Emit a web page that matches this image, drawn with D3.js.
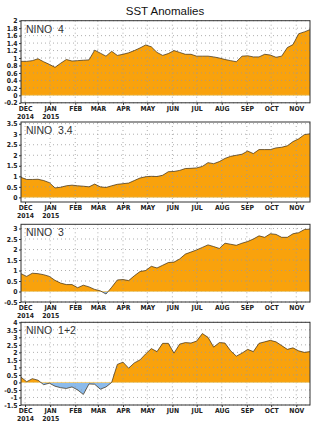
<!DOCTYPE html>
<html><head><meta charset="utf-8">
<script src="https://cdn.jsdelivr.net/npm/d3@7"></script>
<style>
html,body{margin:0;padding:0;background:#fff;}
svg{display:block;}
</style></head>
<body><svg id="c" width="326" height="425"></svg>
<script>
// ---- data ----
const startDate = "2014-11-26";   // first weekly value (Wednesday)
const weeks = 52;
const monthLabels = ["DEC","JAN","FEB","MAR","APR","MAY","JUN","JUL","AUG","SEP","OCT","NOV"];
const yearLabels = ["2014","2015","","","","","","","","","",""];
const panelNames = ["NINO 4","NINO 3.4","NINO 3","NINO 1+2"];

const nino4 = [0.91,0.91,0.93,0.98,0.90,0.83,0.75,0.86,0.96,0.92,0.93,0.94,0.95,1.21,1.13,1.05,1.18,1.07,1.10,1.14,1.20,1.27,1.35,1.30,1.15,1.07,1.12,1.20,1.15,1.10,1.10,1.05,1.05,1.05,1.03,1.00,0.96,0.93,0.90,1.05,1.06,1.03,1.03,1.10,1.08,1.02,1.05,1.28,1.36,1.65,1.70,1.76];
const nino34 = [0.95,0.85,0.85,0.86,0.80,0.70,0.45,0.48,0.55,0.58,0.55,0.53,0.50,0.63,0.50,0.47,0.55,0.62,0.65,0.68,0.80,0.92,0.98,1.00,0.99,1.05,1.22,1.23,1.28,1.37,1.38,1.40,1.47,1.65,1.60,1.70,1.85,1.95,2.00,2.05,2.20,2.08,2.27,2.27,2.27,2.35,2.38,2.45,2.65,2.78,2.98,3.02];
const nino3 = [0.85,0.72,0.87,0.85,0.80,0.72,0.53,0.40,0.33,0.33,0.18,0.30,0.22,0.10,0.03,-0.12,0.20,0.55,0.57,0.52,0.75,0.95,1.00,1.20,1.12,1.25,1.38,1.40,1.55,1.78,1.88,1.98,2.10,2.22,2.14,2.05,2.30,2.25,2.20,2.30,2.38,2.50,2.65,2.58,2.75,2.72,2.58,2.58,2.75,2.80,2.95,2.97];
const nino12 = [0.35,0.05,0.25,0.15,-0.15,-0.05,-0.25,-0.35,-0.40,-0.30,-0.50,-0.80,-0.10,-0.12,-0.45,-0.30,0.00,1.20,1.35,0.95,1.30,1.50,1.90,2.25,2.05,2.60,2.60,1.95,2.55,2.65,2.62,2.75,3.25,3.00,2.35,2.65,2.62,2.10,1.75,1.95,2.20,2.05,2.60,2.70,2.80,2.70,2.45,2.20,2.30,2.10,2.00,2.05];

const ticks4 = ["-0.2","0","0.2","0.4","0.6","0.8","1","1.2","1.4","1.6","1.8","2"];
const ticks34 = ["0","0.5","1","1.5","2","2.5","3","3.5"];
const ticks3 = ["-0.5","0","0.5","1","1.5","2","2.5","3"];
const ticks12 = ["-1.5","-1","-0.5","0","0.5","1","1.5","2","2.5","3","3.5","4"];

const series = [nino4, nino34, nino3, nino12];
const tickSets = [ticks4, ticks34, ticks3, ticks12];
const domains = [[-0.2,2],[-0.22,3.58],[-0.5,3.2],[-1.5,4]];

// ---- layout ----
const L = 21, R = 310;
const frames = [[20.7,102.8],[122,202],[224.3,302],[322.3,405]];
const ORANGE = "#f9a20c", BLUE = "#8cbbeb";
const TF = "DejaVu Sans Condensed, Liberation Sans, Arial, sans-serif";

const svg = d3.select("#c");
const parse = d3.timeParse("%Y-%m-%d");
const t0 = parse(startDate);
const dates = d3.range(weeks).map(i => d3.timeDay.offset(t0, 7*i));
const x = d3.scaleTime().domain([dates[0], dates[dates.length-1]]).range([L, R]);
const monthDates = d3.timeMonth.range(d3.timeMonth.ceil(dates[0]), dates[dates.length-1]);

svg.append("text").attr("x",165).attr("y",15).attr("text-anchor","middle")
  .attr("font-family","Liberation Sans, Arial, sans-serif").attr("font-size",11.5)
  .attr("fill","#111").text("SST Anomalies");

series.forEach((vals, p) => {
  const [top, bot] = frames[p];
  const y = d3.scaleLinear().domain(domains[p]).range([bot, top]);
  const g = svg.append("g");
  const data = vals.map((v,i)=>({d:dates[i], v}));
  const cid = "clip"+p;
  const defs = g.append("defs");
  defs.append("clipPath").attr("id",cid+"a").append("rect")
    .attr("x",L).attr("y",top).attr("width",R-L).attr("height",y(0)-top);
  defs.append("clipPath").attr("id",cid+"b").append("rect")
    .attr("x",L).attr("y",y(0)).attr("width",R-L).attr("height",bot-y(0));
  const area = d3.area().x(d=>x(d.d)).y0(y(0)).y1(d=>y(d.v));
  g.append("path").datum(data).attr("d",area).attr("fill",ORANGE).attr("clip-path",`url(#${cid}a)`);
  g.append("path").datum(data).attr("d",area).attr("fill",BLUE).attr("clip-path",`url(#${cid}b)`);
  // grid
  const tv = tickSets[p].map(Number);
  g.append("g").selectAll("line").data(tv).join("line")
    .attr("x1",L).attr("x2",R).attr("y1",d=>y(d)).attr("y2",d=>y(d))
    .attr("stroke","#9a9a9a").attr("stroke-width",0.8).attr("stroke-dasharray","1,3");
  g.append("g").selectAll("line").data(monthDates).join("line")
    .attr("x1",d=>x(d)).attr("x2",d=>x(d)).attr("y1",top).attr("y2",bot)
    .attr("stroke","#9a9a9a").attr("stroke-width",0.8).attr("stroke-dasharray","1,3");
  // zero line
  g.append("line").attr("x1",L).attr("x2",R).attr("y1",y(0)).attr("y2",y(0))
    .attr("stroke","#f3c96a").attr("stroke-width",0.8);
  // data line
  g.append("path").datum(data).attr("d",d3.line().x(d=>x(d.d)).y(d=>y(d.v)))
    .attr("fill","none").attr("stroke","#3a2a10").attr("stroke-width",0.7);
  // axes
  const ya = d3.axisLeft(y).tickValues(tv).tickFormat((d,i)=>tickSets[p][i]).tickSize(2).tickPadding(1.5);
  const ag = g.append("g").attr("transform",`translate(${L},0)`).call(ya);
  ag.select(".domain").remove();
  ag.selectAll("text").attr("font-family",TF)
    .attr("font-size",6.8).attr("font-weight","bold").attr("fill","#222");
  ag.selectAll("line").attr("stroke","#333");
  const xa = d3.axisBottom(x).tickValues(monthDates).tickFormat((d,i)=>monthLabels[i]).tickSize(2).tickPadding(1.5);
  const xg = g.append("g").attr("transform",`translate(0,${bot})`).call(xa);
  xg.select(".domain").remove();
  xg.selectAll("line").attr("stroke","#333");
  xg.selectAll("text").attr("font-family",TF)
    .attr("font-size",6.8).attr("font-weight","bold").attr("fill","#222");
  xg.selectAll(".tick").filter((d,i)=>yearLabels[i]!=="").append("text")
    .attr("y",11).attr("dy","0.71em").attr("text-anchor","middle")
    .attr("font-family",TF)
    .attr("font-size",6.8).attr("font-weight","bold").attr("fill","#222")
    .text(d=>yearLabels[monthDates.indexOf(d)]);
  // frame
  g.append("rect").attr("x",L).attr("y",top).attr("width",R-L).attr("height",bot-top)
    .attr("fill","none").attr("stroke","#333").attr("stroke-width",1);
  // panel name
  g.append("text").attr("x",26).attr("y",top+12).attr("font-family","Liberation Sans, Arial, sans-serif")
    .attr("font-size",10.5).attr("fill","#333")
    .attr("xml:space","preserve").style("white-space","pre").text(panelNames[p].replace(" ","  "));
});
</script>
</body></html>
